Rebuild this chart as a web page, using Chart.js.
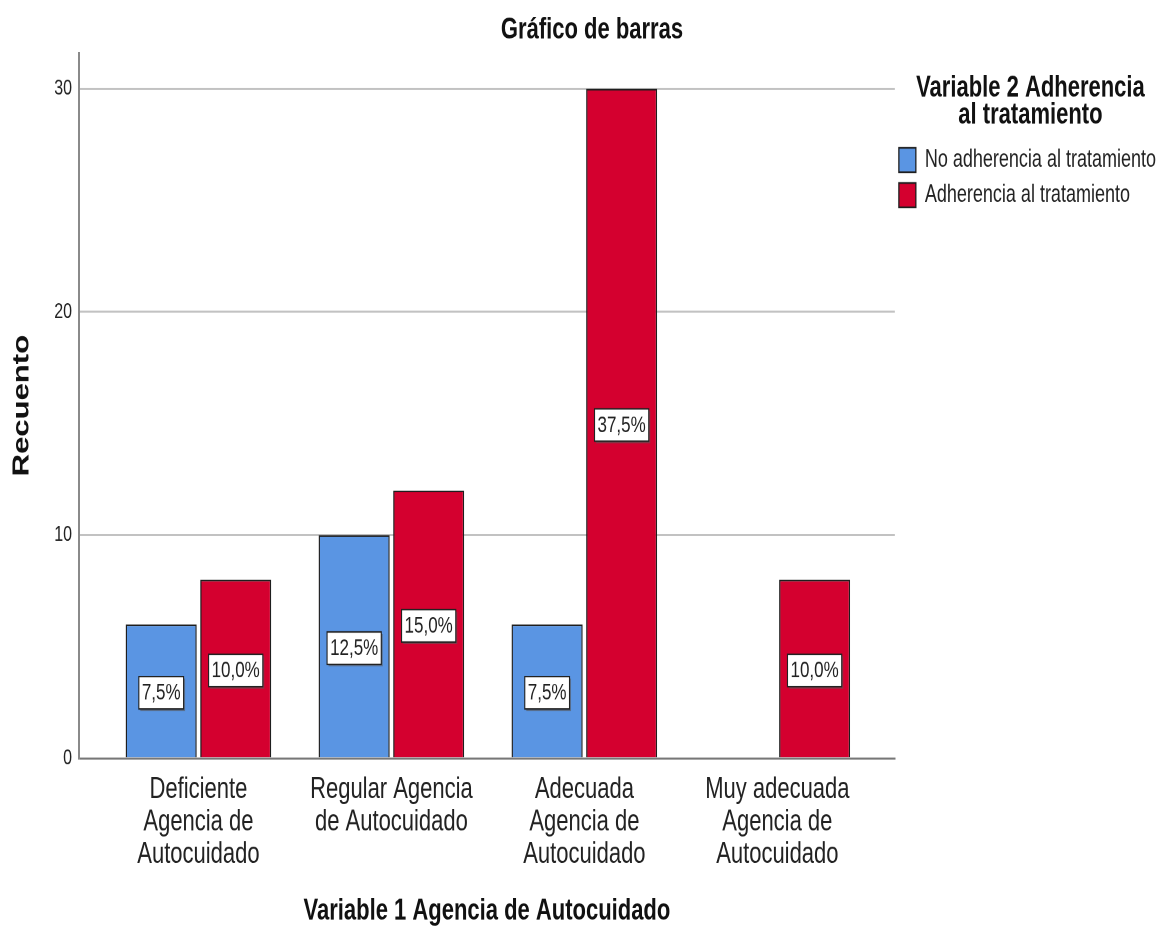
<!DOCTYPE html>
<html>
<head>
<meta charset="utf-8">
<script src="https://cdn.jsdelivr.net/npm/chart.js@4/dist/chart.umd.min.js"></script>
<style>
  html, body { margin: 0; padding: 0; background: #ffffff; overflow: hidden; }
  #wrap { position: absolute; left: 0; top: 0; width: 1161px; height: 688px; transform: scaleY(1.3503); transform-origin: 0 0; }
</style>
</head>
<body>
<div id="wrap"><canvas id="c"></canvas></div>
<script>
// ---- data ----
const categories = [
  ["Deficiente", "Agencia de", "Autocuidado"],
  ["Regular Agencia", "de Autocuidado"],
  ["Adecuada", "Agencia de", "Autocuidado"],
  ["Muy adecuada", "Agencia de", "Autocuidado"]
];
const seriesNames = ["No adherencia al tratamiento", "Adherencia al tratamiento"];
const noAdherencia = [6, 10, 6, 0];
const adherencia = [8, 12, 30, 8];
const yTickValues = [0, 10, 20, 30];
const chartTitle = "Gráfico de barras";
const xTitle = "Variable 1 Agencia de Autocuidado";
const yTitle = "Recuento";
const legendTitle = ["Variable 2 Adherencia", "al tratamiento"];

// ---- styles ----
const FAMILY = "'Liberation Sans', Arial, sans-serif";
const colors = ["#5A95E3", "#D4002F"];
const seriesValues = [noAdherencia, adherencia];
const total = seriesValues.flat().reduce((a, b) => a + b, 0);
const pctText = v => (v / total * 100).toFixed(1).replace('.', ',') + '%';

const datasets = seriesValues.map((vals, i) => ({
  label: seriesNames[i],
  data: vals.map((v, j) => ({ x: j, y: v === 0 ? null : v })),
  backgroundColor: colors[i],
  borderColor: '#1e1e1e',
  borderWidth: 1.3,
  categoryPercentage: 0.772,
  barPercentage: 0.953
}));

const pctPlugin = {
  id: 'pctLabels',
  afterDatasetsDraw(chart) {
    const ctx = chart.ctx;
    ctx.save();
    ctx.font = '17px ' + FAMILY;
    ctx.textAlign = 'center';
    ctx.textBaseline = 'middle';
    chart.data.datasets.forEach((ds, i) => {
      const meta = chart.getDatasetMeta(i);
      meta.data.forEach((bar, j) => {
        const v = seriesValues[i][j];
        if (!v) return;
        const p = bar.getProps(['x', 'y', 'base'], true);
        const cx = p.x, cy = (p.y + p.base) / 2 + 1.5;
        const txt = pctText(v);
        const w = ctx.measureText(txt).width + 6;
        const h = 24;
        ctx.fillStyle = 'rgba(90,90,90,0.6)';
        ctx.fillRect(cx - w / 2 + 1.5, cy - h / 2 + 1.5, w, h);
        ctx.fillStyle = '#ffffff';
        ctx.fillRect(cx - w / 2, cy - h / 2, w, h);
        ctx.strokeStyle = '#222';
        ctx.lineWidth = 1.1;
        ctx.strokeRect(cx - w / 2, cy - h / 2, w, h);
        ctx.fillStyle = '#222';
        ctx.fillText(txt, cx, cy + 0.5);
      });
    });
    ctx.restore();
  }
};

new Chart(document.getElementById('c'), {
  type: 'bar',
  data: { datasets },
  plugins: [pctPlugin],
  options: {
    responsive: true,
    maintainAspectRatio: false,
    animation: false,
    devicePixelRatio: 2,
    layout: { padding: { left: 18, right: -5, top: 0, bottom: 0 } },
    plugins: {
      tooltip: { enabled: false },
      title: {
        display: true,
        text: chartTitle,
        color: '#111',
        font: { family: FAMILY, size: 22, weight: 'bold', lineHeight: 1.2 },
        padding: { top: 9, bottom: 3.9 }
      },
      legend: {
        position: 'right',
        align: 'start',
        title: {
          display: true,
          text: legendTitle,
          color: '#111',
          font: { family: FAMILY, size: 22, weight: 'bold', lineHeight: 20 / 22 },
          padding: { top: 54.2, bottom: 31.3 }
        },
        labels: {
          boxWidth: 17,
          boxHeight: 18,
          padding: 4,
          color: '#222',
          font: { family: FAMILY, size: 18, lineHeight: 22 / 18 },
          generateLabels: chart =>
            Chart.defaults.plugins.legend.labels.generateLabels(chart).map(l => Object.assign(l, { text: [l.text] }))
        }
      }
    },
    scales: {
      x: {
        type: 'linear',
        offset: false,
        min: -0.619,
        max: 3.609,
        afterBuildTicks: s => { s.ticks = categories.map((c, i) => ({ value: i })); },
        afterFit: s => { s.height = 126.5; },
        ticks: {
          callback: v => categories[v],
          autoSkip: false,
          maxRotation: 0,
          minRotation: 0,
          padding: 11.5,
          color: '#222',
          font: { family: FAMILY, size: 22, lineHeight: 24 / 22 }
        },
        grid: { display: false, drawTicks: false, offset: false },
        border: { display: true, color: '#777', width: 1.5 },
        title: {
          display: true,
          text: xTitle,
          color: '#111',
          font: { family: FAMILY, size: 22, weight: 'bold', lineHeight: 1.2 },
          padding: { top: 0, bottom: 0 }
        }
      },
      y: {
        min: 0,
        max: 31.6,
        afterBuildTicks: s => { s.ticks = yTickValues.map(v => ({ value: v })); },
        afterFit: s => { s.width = 61; },
        ticks: {
          padding: 7,
          color: '#222',
          font: { family: FAMILY, size: 16 }
        },
        grid: {
          color: c => (c.tick && c.tick.value === 0) ? 'rgba(0,0,0,0)' : '#c2c2c2',
          lineWidth: 1.5,
          drawTicks: false
        },
        border: { display: true, color: '#8a8a8a', width: 2 },
        title: {
          display: true,
          text: yTitle,
          color: '#111',
          font: { family: FAMILY, size: 23, weight: 'bold', lineHeight: 1.2 },
          padding: { top: -9.8, bottom: 0 }
        }
      }
    }
  }
});
</script>
</body>
</html>
